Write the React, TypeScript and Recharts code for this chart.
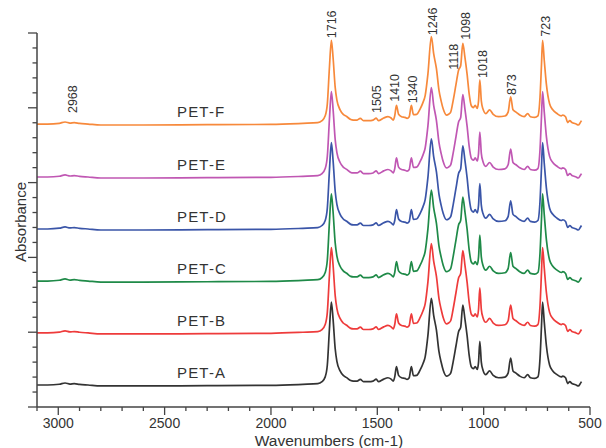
import { ComposedChart, Line, XAxis, YAxis, ReferenceDot } from 'recharts';

// FTIR spectra of PET-A..PET-F, stacked with a vertical offset
const wavenumbers = [
  3100, 3050, 2995, 2968, 2945, 2925, 2900, 2860, 2800, 2600, 2300, 2000, 1850, 1780, 1760, 1745,
  1735, 1725, 1716, 1708, 1698, 1690, 1675, 1660, 1644, 1625, 1613, 1595, 1580, 1565, 1540, 1520,
  1505, 1495, 1470, 1450, 1435, 1425, 1418, 1410, 1400, 1386, 1370, 1360, 1350, 1340, 1330, 1315,
  1299, 1285, 1275, 1262, 1246, 1235, 1222, 1210, 1200, 1190, 1175, 1165, 1155, 1143, 1130, 1118,
  1108, 1098, 1088, 1078, 1068, 1058, 1048, 1040, 1030, 1024, 1018, 1011, 1003, 990, 972, 955,
  930, 900, 885, 873, 862, 848, 830, 810, 793, 780, 760, 745, 735, 728, 723, 715,
  705, 690, 675, 655, 635, 628, 615, 605, 595, 585, 575, 565, 555, 545, 540,
];

// absorbance above each trace's baseline
const profile = [
  0, 0, 0.01, 0.027, 0.013, 0.018, 0.009, 0, -0.013, -0.013, -0.009, -0.005, 0.009, 0.018, 0.045, 0.11,
  0.27, 0.76, 1.12, 0.89, 0.49, 0.32, 0.19, 0.13, 0.1, 0.06, 0.053, 0.053, 0.076, 0.045, 0.045, 0.053,
  0.08, 0.045, 0.08, 0.098, 0.08, 0.053, 0.11, 0.25, 0.13, 0.098, 0.089, 0.076, 0.098, 0.25, 0.125, 0.13,
  0.2, 0.29, 0.38, 0.67, 1.17, 0.94, 0.74, 0.45, 0.31, 0.2, 0.12, 0.13, 0.16, 0.32, 0.53, 0.72,
  0.78, 1.08, 0.89, 0.67, 0.4, 0.245, 0.22, 0.25, 0.21, 0.31, 0.59, 0.31, 0.2, 0.14, 0.19, 0.13,
  0.098, 0.107, 0.16, 0.365, 0.19, 0.16, 0.12, 0.098, 0.14, 0.098, 0.089, 0.11, 0.36, 0.8, 1.12, 0.85,
  0.53, 0.27, 0.19, 0.14, 0.11, 0.12, 0.098, 0.02, 0.045, 0.02, 0.01, 0, -0.013, 0.022, 0.045,
];

const seriesNames = ['PET-A', 'PET-B', 'PET-C', 'PET-D', 'PET-E', 'PET-F'];
const baselines = [0.294, 0.99, 1.684, 2.38, 3.075, 3.783];
const peakScale = [0.99, 1.02, 1.04, 1.03, 1.02, 1.0];
const seriesColors = ['#333333', '#ee3b3b', '#1f8a48', '#3a55a8', '#c057b3', '#f7893b'];

const peakNames = ['2968', '1716', '1505', '1410', '1340', '1246', '1118', '1098', '1018', '873', '723'];
const peakLabelX = [2931, 1713, 1502, 1417, 1332, 1238, 1140, 1085, 1003, 867, 707];
const peakLabelY = [3.93, 4.93, 3.93, 4.08, 4.06, 4.97, 4.51, 4.91, 4.4, 4.17, 4.95];

const xTicks = [
  3100, 3000, 2900, 2800, 2700, 2600, 2500, 2400, 2300, 2200, 2100, 2000, 1900, 1800,
  1700, 1600, 1500, 1400, 1300, 1200, 1100, 1000, 900, 800, 700, 600, 500,
];
const yTicks = [
  0, 0.2, 0.4, 0.6, 0.8, 1, 1.2, 1.4, 1.6, 1.8, 2, 2.2, 2.4, 2.6, 2.8, 3, 3.2, 3.4, 3.6, 3.8,
  4, 4.2, 4.4, 4.6, 4.8, 5,
];

const data = wavenumbers.map((w, j) => {
  const row: Record<string, number> = { w };
  seriesNames.forEach((name, i) => {
    row[name] = baselines[i] + profile[j] * peakScale[i];
  });
  return row;
});

const FONT = '"Liberation Sans", Arial, sans-serif';
const AXIS = '#444';
const TEXT = '#333';

function XTick({ x, y, payload }: any) {
  const v = payload.value as number;
  const major = v % 500 === 0;
  return (
    <g>
      <line x1={x} x2={x} y1={y} y2={y + (major ? 8 : 4)} stroke={AXIS} strokeWidth={1.3} />
      {major && (
        <text x={x} y={y + 16} textAnchor="middle" dominantBaseline="central" fontSize={14} fill={TEXT} fontFamily={FONT}>
          {v}
        </text>
      )}
    </g>
  );
}

function YTick({ x, y, payload }: any) {
  const v = payload.value as number;
  const major = Math.abs(v - Math.round(v)) < 1e-6;
  return <line x1={x - (major ? 9 : 4.5)} x2={x} y1={y} y2={y} stroke={AXIS} strokeWidth={1.3} />;
}

function PeakText({ viewBox, text }: any) {
  const cx = viewBox.x + viewBox.width / 2;
  const cy = viewBox.y + viewBox.height / 2;
  return (
    <text
      x={cx}
      y={cy}
      transform={`rotate(-90 ${cx} ${cy})`}
      textAnchor="start"
      dominantBaseline="central"
      fontSize={12.5}
      fill={TEXT}
      fontFamily={FONT}
    >
      {text}
    </text>
  );
}

function SeriesText({ viewBox, text }: any) {
  const cx = viewBox.x + viewBox.width / 2;
  const cy = viewBox.y + viewBox.height / 2;
  return (
    <text x={cx} y={cy} textAnchor="start" dominantBaseline="central" fontSize={15} letterSpacing={1.2} fill={TEXT} fontFamily={FONT}>
      {text}
    </text>
  );
}

function XTitle({ viewBox }: any) {
  return (
    <text x={329} y={viewBox.y + 33} textAnchor="middle" dominantBaseline="central" fontSize={15.5} fill={TEXT} fontFamily={FONT}>
      Wavenumbers (cm-1)
    </text>
  );
}

function YTitle() {
  return (
    <text
      x={20}
      y={222}
      transform="rotate(-90 20 222)"
      textAnchor="middle"
      dominantBaseline="central"
      fontSize={15}
      fill={TEXT}
      fontFamily={FONT}
    >
      Absorbance
    </text>
  );
}

export default function App() {
  return (
    <div style={{ position: 'absolute', left: 0, top: 0, width: 606, height: 448, background: '#fff' }}>
      <ComposedChart width={606} height={448} data={data} margin={{ top: 33, right: 16, left: 0, bottom: 0 }}>
        <XAxis
          dataKey="w"
          type="number"
          domain={[500, 3100]}
          reversed
          ticks={xTicks}
          interval={0}
          tickSize={0}
          tickMargin={0}
          height={41}
          tick={<XTick />}
          tickLine={false}
          axisLine={{ stroke: AXIS, strokeWidth: 1.5 }}
          label={{ content: <XTitle /> }}
        />
        <YAxis
          type="number"
          domain={[0, 5]}
          ticks={yTicks}
          interval={0}
          tickSize={0}
          tickMargin={0}
          width={37}
          tick={<YTick />}
          tickLine={false}
          axisLine={{ stroke: AXIS, strokeWidth: 1.5 }}
          label={{ content: <YTitle /> }}
        />
        {seriesNames.map((name, i) => (
          <Line
            key={name}
            type="monotone"
            dataKey={name}
            stroke={seriesColors[i]}
            strokeWidth={1.7}
            dot={false}
            activeDot={false}
            isAnimationActive={false}
          />
        ))}
        {seriesNames.map((name, i) => (
          <ReferenceDot
            key={`lbl-${name}`}
            x={2442}
            y={baselines[i] + 0.165}
            r={1}
            fill="none"
            stroke="none"
            label={<SeriesText text={name} />}
          />
        ))}
        {peakNames.map((p, k) => (
          <ReferenceDot
            key={`pk-${p}`}
            x={peakLabelX[k]}
            y={peakLabelY[k]}
            r={1}
            fill="none"
            stroke="none"
            label={<PeakText text={p} />}
          />
        ))}
      </ComposedChart>
    </div>
  );
}
